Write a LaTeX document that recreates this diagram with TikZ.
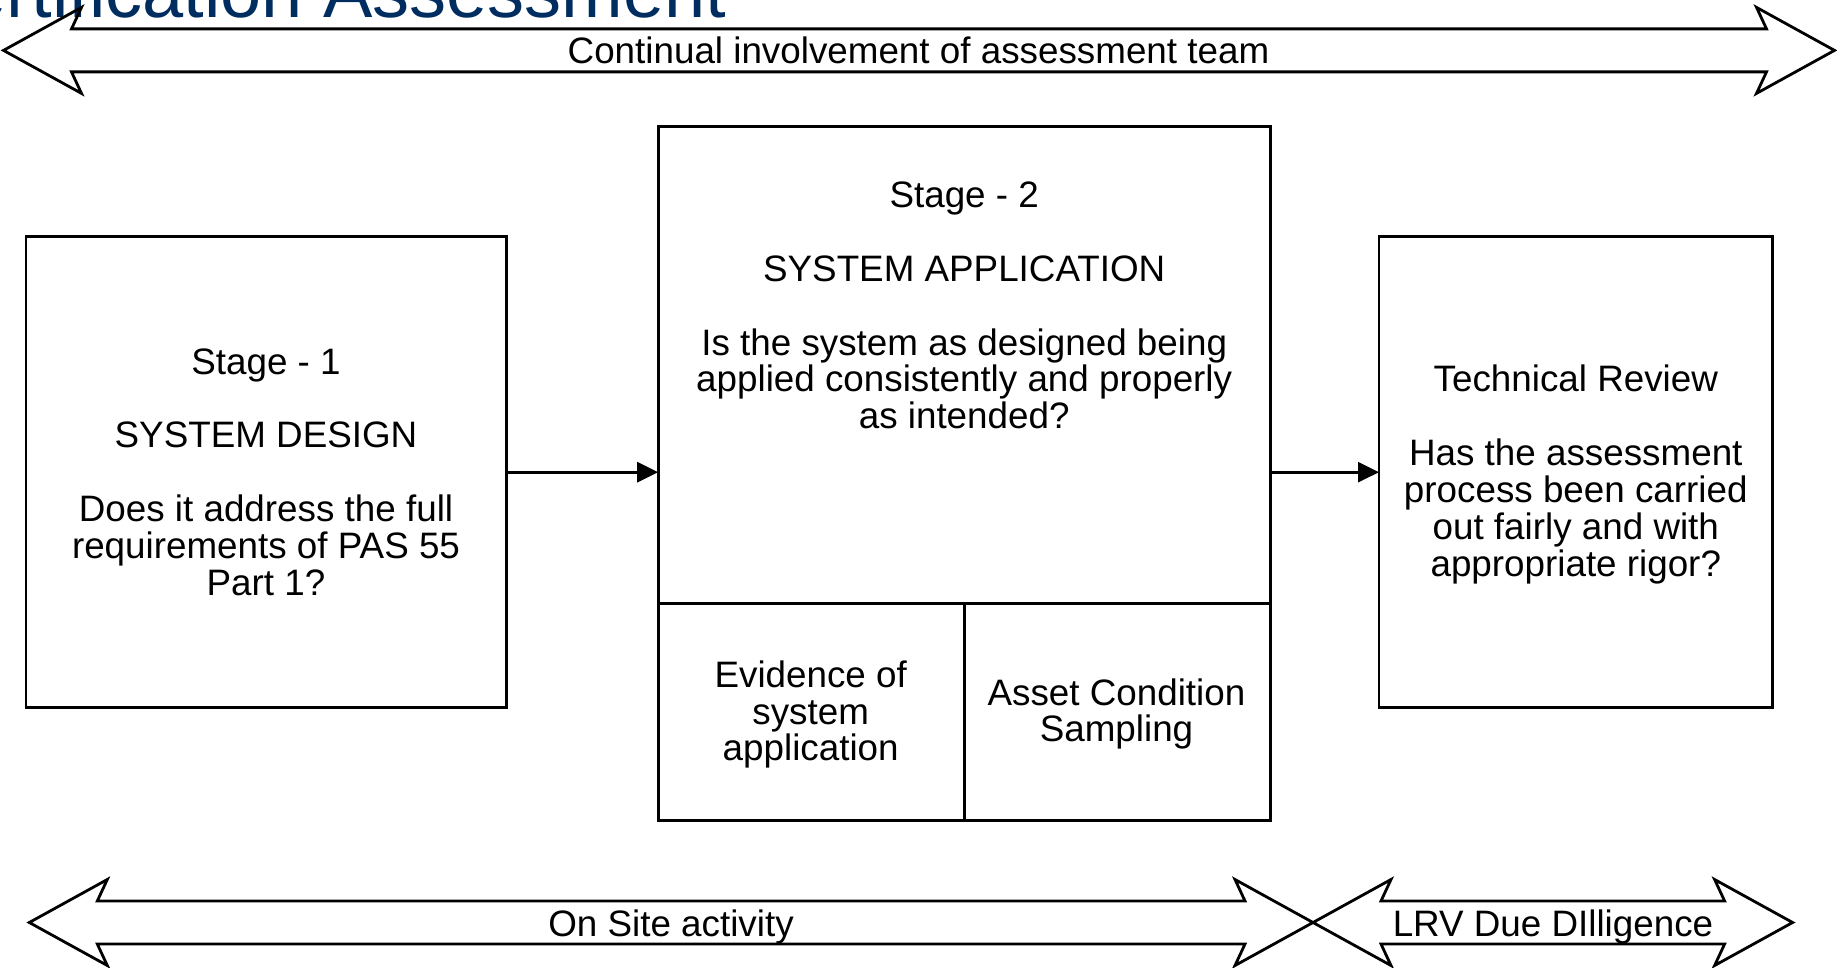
\documentclass[tikz,border=0pt]{standalone}
\usepackage{fontspec}
\setmainfont{Liberation Sans}
\usetikzlibrary{arrows.meta}
\definecolor{titleblue}{RGB}{0,45,96}
\newcommand\dblarr[3]{%
  \draw[bigarrow] (#1,#3) -- ({#1+78},{#3-43}) -- ({#1+68},{#3-21.5}) -- ({#2-68},{#3-21.5})
    -- ({#2-78},{#3-43}) -- (#2,#3) -- ({#2-78},{#3+43}) -- ({#2-68},{#3+21.5})
    -- ({#1+68},{#3+21.5}) -- ({#1+78},{#3+43}) -- cycle;}
\begin{document}
\begin{tikzpicture}[x=0.5pt,y=-0.5pt,
  box/.style={draw=black, line width=1.4pt, inner sep=0pt, outer sep=0pt},
  txt/.style={align=center, font=\fontsize{18.4}{18.45}\selectfont, inner sep=0pt},
  bigarrow/.style={draw=black, line width=1.4pt, line join=miter},
  conn/.style={line width=1.3pt, -{Triangle[length=10.5pt,width=10pt]}}]
\useasboundingbox (0,0) rectangle (1837,968);
\clip (0,0) rectangle (1837,968);
% title (cut off at top)
\node[anchor=base east, text=titleblue, inner sep=0pt, font=\fontsize{37}{37}\selectfont] (title) at (727,18) {Certification Assessment};
% big double arrows
\dblarr{3.5}{1834.5}{50.4}
\dblarr{29.3}{1313}{922.5}
\dblarr{1313}{1792.6}{922.5}
\node[txt] (toptxt) at (918.5,50.5) {Continual involvement of assessment team};
\node[txt] (onsite) at (671,926.5) {On Site activity};
\node[txt] (lrv) at (1553,926.5) {LRV Due DIlligence};
% boxes
\node[box, minimum width=240.1pt, minimum height=235.45pt, txt] (s1) at (266,472.2)
  {Stage - 1\\[18.45pt]SYSTEM DESIGN\\[18.45pt]Does it address the full\\requirements of PAS 55\\Part 1?};
\node[box, minimum width=306pt, minimum height=346.8pt] (s2) at (964.2,473.3) {};
\node[box, minimum width=196.8pt, minimum height=235.45pt] (s3) at (1575.8,472.2) {};
\node[txt] (s3txt) at (1575.8,474.5)
  {Technical Review\\[18.45pt]Has the assessment\\process been carried\\out fairly and with\\appropriate rigor?};
\coordinate (divl) at (658.2,603.4);
\coordinate (divr) at (1270.2,603.4);
\coordinate (divt) at (964.2,603.4);
\draw[line width=1.4pt] (divl) -- (divr);
\draw[line width=1.4pt] (divt) -- (s2.south);
\node[txt] (s2txt) at (964.2,305.5)
  {Stage - 2\\[18.45pt]SYSTEM APPLICATION\\[18.45pt]Is the system as designed being\\applied consistently and properly\\as intended?};
\node[txt] (evid) at (810.7,714.5) {Evidence of\\system\\application};
\node[txt] (asset) at (1116.5,714) {Asset Condition\\Sampling};
% connectors
\draw[conn] (s1.east) -- (s1.east -| s2.west);
\draw[conn] (s3.west -| s2.east) -- (s3.west);
\end{tikzpicture}
\end{document}
